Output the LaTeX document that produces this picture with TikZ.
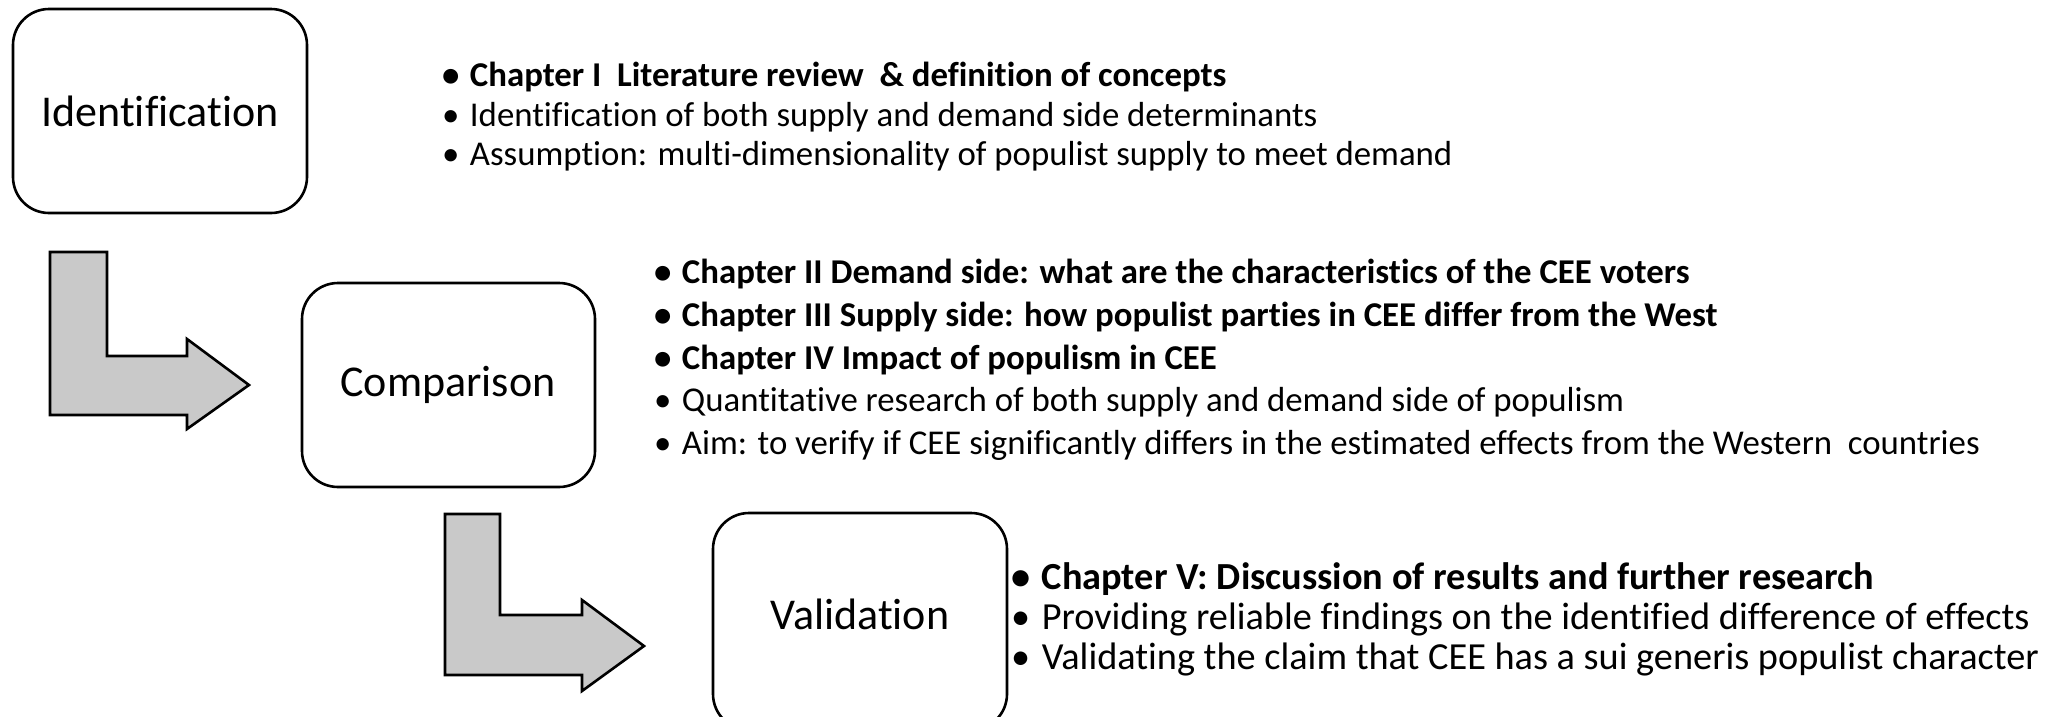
\documentclass[tikz,border=0pt]{standalone}
\usepackage{fontspec}
\setmainfont{Carlito}[Ligatures=NoCommon]
\newcommand{\bul}{•\hspace{0.3em}}
\begin{document}
\begin{tikzpicture}[x=1pt,y=-1pt,
  stagebox/.style={draw=black,line width=2.6pt,rounded corners=36pt,fill=white},
  stagelabel/.style={font=\fontsize{44}{52}\selectfont,inner sep=0pt},
  bentarrow/.style={draw=black,line width=2.6pt,fill=black!21,line join=miter},
  bl/.style={anchor=base west,inner sep=0pt,font=\fontsize{34.8}{40}\selectfont},
  blb/.style={bl,font=\fontsize{34.8}{40}\selectfont\bfseries},
  bl3/.style={anchor=base west,inner sep=0pt,font=\fontsize{38.3}{42}\selectfont},
  blb3/.style={bl3,font=\fontsize{38.3}{42}\selectfont\bfseries}]
\useasboundingbox (0,0) rectangle (2051,716);
% boxes
\draw[stagebox] (13,9) rectangle (307,213);
\node[stagelabel] (id) at (160,111) {Identification};
\draw[stagebox] (302,283) rectangle (595,487);
\node[stagelabel] (cmp) at (448,385) {Comparison};
\draw[stagebox] (713,513) rectangle (1007,730);
\node[stagelabel] (val) at (860,614) {Validation};
% bent arrows
\draw[bentarrow] (50,252) -- (107,252) -- (107,356) -- (187,356) -- (187,339) -- (249,385) -- (187,429) -- (187,415) -- (50,415) -- cycle;
\draw[bentarrow] (445,514) -- (500,514) -- (500,615) -- (582,615) -- (582,600) -- (644,646) -- (582,691) -- (582,675) -- (445,675) -- cycle;
% block 1
\node[blb] (a1) at (442,86) {\bul Chapter I\ \ Literature review\ \ \& definition of concepts};
\node[bl] (a2) at (442,126) {\bul Identification of both supply and demand side determinants};
\node[bl] (a3) at (442,165) {\bul Assumption: multi-dimensionality of populist supply to meet demand};
% block 2
\node[blb] (c1) at (654,283) {\bul Chapter II Demand side: what are the characteristics of the CEE voters};
\node[blb] (c2) at (654,326) {\bul Chapter III Supply side: how populist parties in CEE differ from the West};
\node[blb] (c3) at (654,369) {\bul Chapter IV Impact of populism in CEE};
\node[bl] (c4) at (654,411) {\bul Quantitative research of both supply and demand side of populism};
\node[bl] (c5) at (654,454) {\bul Aim: to verify if CEE significantly differs in the estimated effects from the Western\ \ countries};
% block 3
\node[blb3] (v1) at (1011,589) {\bul Chapter V: Discussion of results and further research};
\node[bl3] (v2) at (1011,629) {\bul Providing reliable findings on the identified difference of effects};
\node[bl3] (v3) at (1011,669) {\bul Validating the claim that CEE has a sui generis populist character};
\end{tikzpicture}
\end{document}
